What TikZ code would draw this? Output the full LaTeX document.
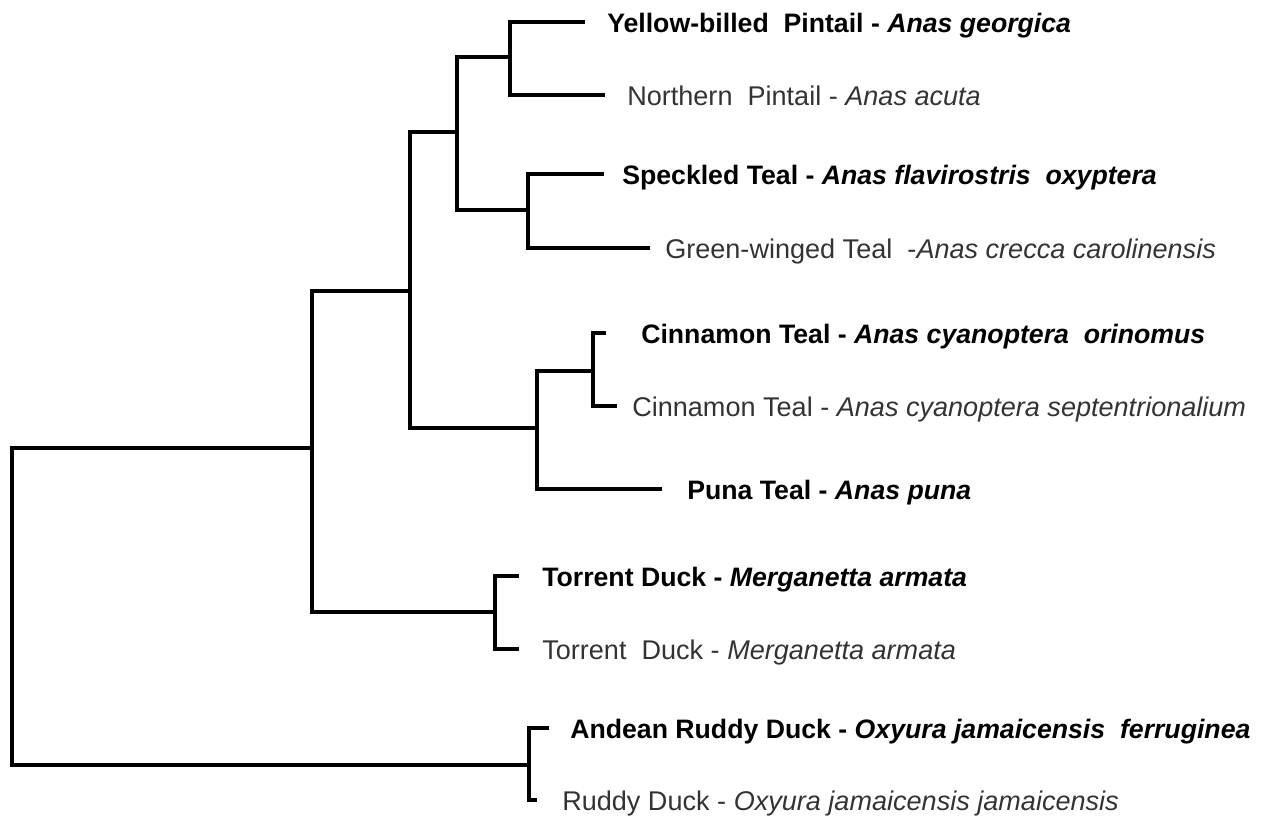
\documentclass[tikz,border=0pt]{standalone}
\usepackage{fontspec}
\setmainfont{Liberation Sans}
\begin{document}
\begin{tikzpicture}[x=0.75pt,y=-0.75pt,
  branch/.style={line width=3.2pt,line cap=rect,line join=miter,black},
  leafb/.style={anchor=base west,inner sep=0pt,font=\fontsize{20}{24}\selectfont\bfseries,text=black},
  leafn/.style={anchor=base west,inner sep=0pt,font=\fontsize{20.3}{24}\selectfont,text={black!80}}]
\useasboundingbox (0,0) rectangle (1268,821);
% leaf tips
\coordinate (t1) at (583,22);
\coordinate (t2) at (603,95);
\coordinate (t3) at (602,174);
\coordinate (t4) at (648,248);
\coordinate (t5) at (604,333);
\coordinate (t6) at (615,406);
\coordinate (t7) at (660,489);
\coordinate (t8) at (517,576);
\coordinate (t9) at (517,649);
\coordinate (t10) at (547,728);
\coordinate (t11) at (535,800);
% leaf labels
\node[leafb] (l1) at (607,32) {Yellow-billed\ \ Pintail - \textit{Anas georgica}};
\node[leafn] (l2) at (627,105) {Northern\ \ Pintail - \textit{Anas acuta}};
\node[leafb] (l3) at (622,184) {Speckled Teal - \textit{Anas flavirostris\ \ oxyptera}};
\node[leafn] (l4) at (665,258) {Green-winged Teal\ \ -\textit{Anas crecca carolinensis}};
\node[leafb] (l5) at (641,343) {Cinnamon Teal - \textit{Anas cyanoptera\ \ orinomus}};
\node[leafn] (l6) at (632,416) {Cinnamon Teal - \textit{Anas cyanoptera septentrionalium}};
\node[leafb] (l7) at (687,499) {Puna Teal - \textit{Anas puna}};
\node[leafb] (l8) at (542,586) {Torrent Duck - \textit{Merganetta armata}};
\node[leafn] (l9) at (542,659) {Torrent\ \ Duck - \textit{Merganetta armata}};
\node[leafb] (l10) at (570,738) {Andean Ruddy Duck - \textit{Oxyura jamaicensis\ \ ferruginea}};
\node[leafn] (l11) at (562,810) {Ruddy Duck - \textit{Oxyura jamaicensis jamaicensis}};
% internal nodes
\coordinate (P) at (510,57);
\coordinate (T) at (528,210);
\coordinate (U) at (457,132);
\coordinate (C) at (593,371);
\coordinate (L) at (537,428);
\coordinate (A) at (410,291);
\coordinate (M) at (495,612);
\coordinate (B) at (312,448);
\coordinate (O) at (529,765);
\coordinate (R) at (12,600);
% branches
\draw[branch] (t1) -| (P) |- (t2);
\draw[branch] (t3) -| (T) |- (t4);
\draw[branch] (P) -| (U) |- (T);
\draw[branch] (t5) -| (C) |- (t6);
\draw[branch] (C) -| (L) |- (t7);
\draw[branch] (U) -| (A) |- (L);
\draw[branch] (t8) -| (M) |- (t9);
\draw[branch] (A) -| (B) |- (M);
\draw[branch] (t10) -| (O) |- (t11);
\draw[branch] (B) -| (R) |- (O);
\end{tikzpicture}
\end{document}
